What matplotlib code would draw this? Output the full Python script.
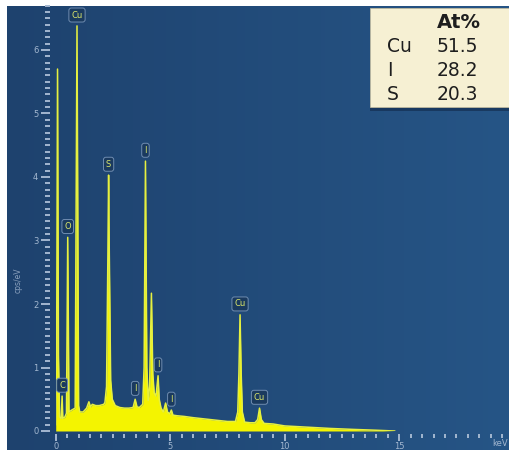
# EDS spectrum with element peak labels and At% table

import matplotlib
matplotlib.use('Agg')
import matplotlib.pyplot as plt
from matplotlib.patches import Rectangle
from matplotlib.ticker import MultipleLocator
import numpy as np

# spectrum: energy in keV, intensity in cps/eV
energy = [0.0, 0.04, 0.08, 0.12, 0.17, 0.24, 0.28, 0.31, 0.4, 0.47,
          0.525, 0.58, 0.7, 0.85, 0.93, 1.0, 1.05, 1.2, 1.35, 1.45,
          1.52, 1.6, 1.75, 1.9, 2.1, 2.15, 2.22, 2.28, 2.31, 2.34,
          2.4, 2.47, 2.6, 2.8, 3.0, 3.2, 3.38, 3.47, 3.55, 3.65,
          3.8, 3.86, 3.92, 3.98, 4.04, 4.1, 4.18, 4.24, 4.3, 4.38,
          4.47, 4.52, 4.6, 4.7, 4.8, 4.88, 4.98, 5.05, 5.12, 5.3,
          5.6, 6.0, 6.5, 7.0, 7.5, 7.85, 7.95, 8.0, 8.05, 8.1,
          8.15, 8.25, 8.5, 8.7, 8.82, 8.9, 8.98, 9.1, 9.5, 10.0,
          11.0, 12.0, 13.0, 14.0, 14.8]
cps = [0.1, 1.2, 5.7, 1.2, 0.22, 0.2, 0.55, 0.2, 0.22, 0.28,
       3.05, 0.3, 0.33, 0.36, 6.38, 0.4, 0.3, 0.3, 0.36, 0.46,
       0.38, 0.42, 0.4, 0.4, 0.42, 0.45, 0.7, 2.8, 4.03, 2.8,
       0.8, 0.5, 0.4, 0.37, 0.36, 0.36, 0.37, 0.5, 0.38, 0.37,
       0.42, 1.0, 4.25, 1.0, 0.48, 0.7, 2.17, 0.9, 0.6, 0.55,
       0.87, 0.5, 0.36, 0.3, 0.44, 0.3, 0.27, 0.33, 0.25, 0.24,
       0.23, 0.21, 0.19, 0.17, 0.15, 0.15, 0.3, 0.9, 1.83, 0.9,
       0.3, 0.14, 0.13, 0.13, 0.18, 0.36, 0.18, 0.12, 0.11, 0.08,
       0.06, 0.04, 0.025, 0.012, 0.0]

# peak markers
peakEnergy = [0.28, 0.525, 0.93, 2.31, 3.47, 3.92, 4.47, 5.05, 8.05, 8.9]
peakName = ['C', 'O', 'Cu', 'S', 'I', 'I', 'I', 'I', 'Cu', 'Cu']

# composition table
tableElements = ['Cu', 'I', 'S']
tableAtPct = ['51.5', '28.2', '20.3']

W, H = 510, 450
fig = plt.figure(figsize=(W / 100, H / 100), dpi=100, facecolor='white')

# blue gradient background
bg = fig.add_axes([7 / W, 0, 1 - 7 / W, (H - 6) / H])
left = np.array([30, 66, 110]) / 255
right = np.array([38, 85, 134]) / 255
t = np.linspace(0, 1, 256)
grad = left[None, :] * (1 - t[:, None]) + right[None, :] * t[:, None]
bg.imshow(grad[None, :, :], aspect='auto', extent=[0, 1, 0, 1])
bg.axis('off')

x0px, y0px = 55.7, 431
ax = fig.add_axes([x0px / W, (H - y0px) / H, 1 - x0px / W, (y0px - 5) / H])
ax.set_facecolor('none')
ax.set_xlim(0, (W - x0px) / 22.9)
ax.set_ylim(0, (y0px - 5) / 63.5)

yellow = '#f4f400'
ax.fill_between(energy, cps, 0, color=yellow, lw=0, zorder=2)
ax.plot(energy, cps, color='#e6f040', lw=1.1, zorder=3)

for e, name in zip(peakEnergy, peakName):
    top = np.interp(e, energy, cps)
    ax.text(e, top + 0.1, name, ha='center', va='bottom', fontsize=6,
            color='#d8e46a', zorder=5, clip_on=False,
            bbox=dict(boxstyle='round,pad=0.3', fc='#1a3a5f', ec='#6f8cb0', lw=0.7))

tickCol = '#a3b7d0'
for s in ax.spines.values():
    s.set_visible(False)
ax.spines['left'].set_position(('outward', 4))
ax.spines['bottom'].set_position(('outward', 2))
ax.xaxis.set_major_locator(MultipleLocator(5))
ax.xaxis.set_minor_locator(MultipleLocator(0.5))
ax.yaxis.set_major_locator(MultipleLocator(1))
ax.yaxis.set_minor_locator(MultipleLocator(0.1))
ax.tick_params(which='major', length=6.5, width=1.4, color=tickCol,
               labelcolor=tickCol, labelsize=6, pad=2)
ax.tick_params(which='minor', length=3.5, width=1.4, color=tickCol)
ax.tick_params(axis='x', which='major', length=5, pad=1)
ax.tick_params(axis='x', which='minor', length=3)

fig.text(508 / W, (H - 444) / H, 'keV', fontsize=6, color=tickCol,
         ha='right', va='center')
fig.text(18 / W, (H - 280) / H, 'cps/eV', fontsize=5.5, color='#8aa0bd',
         rotation=90, ha='center', va='center')

# At% table in the top right corner
fig.patches.append(Rectangle((370 / W, (H - 111) / H), 140 / W, 4 / H,
                             transform=fig.transFigure, fc='#142f52', ec='none', alpha=0.7))
fig.patches.append(Rectangle((370 / W, (H - 107) / H), 140 / W, 99 / H,
                             transform=fig.transFigure, fc='#f6f0d3', ec='#c8c0a0', lw=0.5))
fig.text(437 / W, (H - 23) / H, 'At%', fontsize=14, fontweight='bold',
         color='#1e1e1e', va='center')
for i, (el, val) in enumerate(zip(tableElements, tableAtPct)):
    yy = (H - (47 + 24 * i)) / H
    fig.text(387 / W, yy, el, fontsize=13.5, color='#1e1e1e', va='center')
    fig.text(437 / W, yy, val, fontsize=13.5, color='#1e1e1e', va='center')

fig.savefig('out.png', dpi=100, facecolor='white')
